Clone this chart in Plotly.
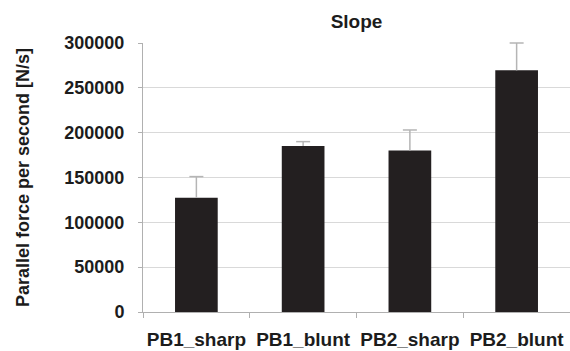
import plotly.graph_objects as go

# Mean slope per tool condition, with standard deviation
conditions = ["PB1_sharp", "PB1_blunt", "PB2_sharp", "PB2_blunt"]
slope_mean = [127500, 185000, 180000, 269500]
slope_sd = [23500, 5000, 23000, 30500]
y_ticks = [0, 50000, 100000, 150000, 200000, 250000, 300000]

FAMILY = "Liberation Sans, Arial, sans-serif"
INK = "#1c1c1c"
WHISKER = "#b5b5b5"

fig = go.Figure()

fig.add_trace(
    go.Bar(
        x=conditions,
        y=slope_mean,
        width=0.4,
        marker=dict(color="#231f20", line=dict(width=0)),
    )
)

# Upper whiskers: a stem from each bar top up by one SD, then a cap
stem_x, stem_y = [], []
for c, m, s in zip(conditions, slope_mean, slope_sd):
    stem_x += [c, c, None]
    stem_y += [m, m + s, None]
fig.add_trace(
    go.Scatter(
        x=stem_x,
        y=stem_y,
        mode="lines",
        line=dict(color=WHISKER, width=1.5),
        hoverinfo="skip",
    )
)
fig.add_trace(
    go.Scatter(
        x=conditions,
        y=[m + s for m, s in zip(slope_mean, slope_sd)],
        mode="markers",
        marker=dict(symbol="line-ew", size=10,
                    line=dict(color=WHISKER, width=1.5)),
        cliponaxis=False,
        hoverinfo="skip",
    )
)

fig.update_layout(
    width=570,
    height=351,
    margin=dict(l=143, r=0, t=43, b=39),
    paper_bgcolor="white",
    plot_bgcolor="white",
    showlegend=False,
    title=dict(
        text="Slope",
        x=(143 + 570) / 2 / 570,
        xanchor="center",
        y=1 - 21 / 351,
        yanchor="middle",
        font=dict(family=FAMILY, size=19, color=INK, weight="bold"),
    ),
)

fig.update_xaxes(
    automargin=False,
    showline=True,
    linecolor="#b0b0b0",
    linewidth=1,
    ticks="outside",
    tickson="boundaries",
    ticklen=5,
    tickcolor="#b0b0b0",
    showgrid=False,
    tickangle=0,
    tickfont=dict(family=FAMILY, size=19, color=INK, weight="bold"),
    ticklabelstandoff=10,
)

fig.update_yaxes(
    automargin=False,
    range=[0, 300000],
    tickvals=y_ticks,
    ticktext=[str(v) for v in y_ticks],
    showline=True,
    linecolor="#b0b0b0",
    linewidth=1,
    ticks="outside",
    ticklen=4,
    tickcolor="#b0b0b0",
    showgrid=True,
    gridcolor="#d9d9d9",
    gridwidth=1,
    zeroline=False,
    tickfont=dict(family=FAMILY, size=18, color=INK, weight="bold"),
    ticklabelstandoff=10,
    title=dict(
        text="Parallel force per second [N/s]",
        font=dict(family=FAMILY, size=18, color=INK, weight="bold"),
        standoff=30,
    ),
)

fig.write_html("out.html")
